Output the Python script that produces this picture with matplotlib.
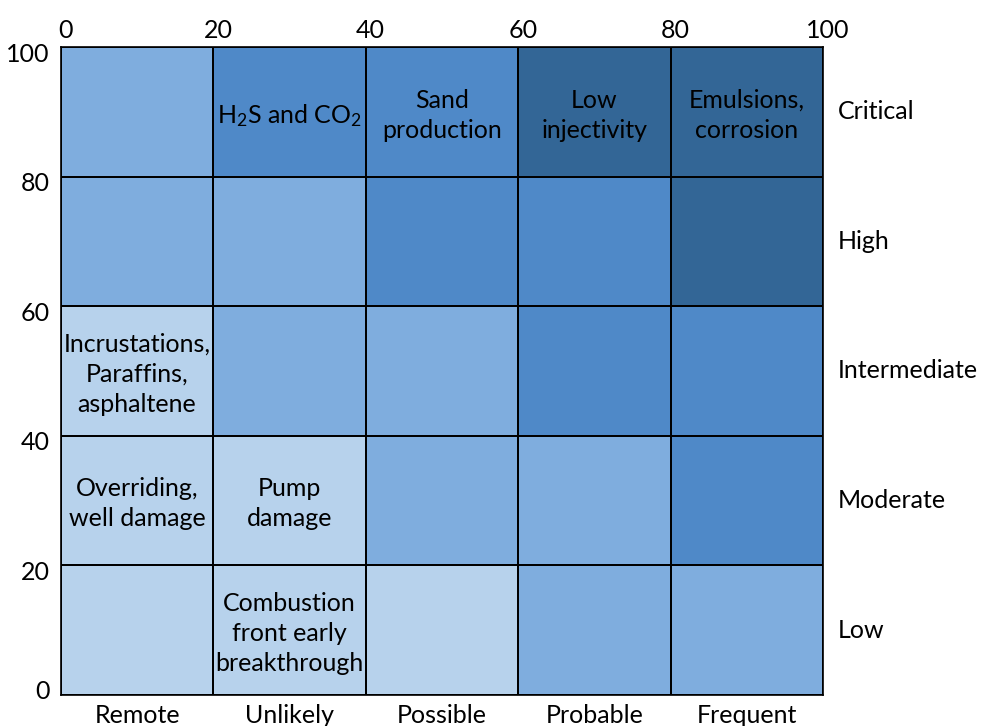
import numpy as np
import matplotlib.pyplot as plt
from matplotlib.colors import ListedColormap
from matplotlib.transforms import ScaledTranslation

plt.rcParams['font.family'] = ['Lato', 'DejaVu Sans']
plt.rcParams['mathtext.fontset'] = 'custom'
plt.rcParams['mathtext.rm'] = 'Lato'
plt.rcParams['mathtext.it'] = 'Lato'

# 概率 (列) 与 严重程度 (行)
probability = ['Remote', 'Unlikely', 'Possible', 'Probable', 'Frequent']
severity = ['Critical', 'High', 'Intermediate', 'Moderate', 'Low']
ticks = [0, 20, 40, 60, 80, 100]

# 风险等级, 行从上到下
risk_level = np.array([
    [1, 2, 2, 3, 3],
    [1, 1, 2, 2, 3],
    [0, 1, 1, 2, 2],
    [0, 0, 1, 1, 2],
    [0, 0, 0, 1, 1],
])
level_colors = ['#b7d2ec', '#7fadde', '#4f89c8', '#336696']

# 单元格内的问题说明 (行, 列, 文字)
cell_notes = [
    (0, 1, 'H$_2$S and CO$_2$'),
    (0, 2, 'Sand\nproduction'),
    (0, 3, 'Low\ninjectivity'),
    (0, 4, 'Emulsions,\ncorrosion'),
    (2, 0, 'Incrustations,\nParaffins,\nasphaltene'),
    (3, 0, 'Overriding,\nwell damage'),
    (3, 1, 'Pump\ndamage'),
    (4, 1, 'Combustion\nfront early\nbreakthrough'),
]

fs = 18

fig = plt.figure(figsize=(9.82, 7.26), dpi=100)
ax = fig.add_axes([0.062, 0.043, 0.776, 0.892])

edges = np.array(ticks)
cmap = ListedColormap(level_colors)
# pcolormesh 从下往上画, 所以把行翻过来
ax.pcolormesh(edges, edges, risk_level[::-1], cmap=cmap, vmin=-0.5, vmax=3.5,
              edgecolor='black', linewidth=1.2)

ax.set_xlim(0, 100)
ax.set_ylim(0, 100)
ax.xaxis.tick_top()
ax.set_xticks(ticks)
ax.set_yticks(ticks)
ax.tick_params(length=0, labelsize=fs)
ax.tick_params(axis='x', pad=4)
ax.tick_params(axis='y', pad=8)
for s in ax.spines.values():
    s.set_linewidth(1.2)

# 刻度文字稍微错开一点
for lab in ax.get_xticklabels():
    lab.set_transform(lab.get_transform() + ScaledTranslation(5 / 100, 0, fig.dpi_scale_trans))
for lab, t in zip(ax.get_yticklabels(), ticks):
    dy = 5 if t == 0 else -5
    lab.set_transform(lab.get_transform() + ScaledTranslation(0, dy / 100, fig.dpi_scale_trans))

for r, c, txt in cell_notes:
    ax.text(edges[c] + 10, 100 - (r * 20 + 10) - 0.5, txt, ha='center', va='center',
            fontsize=fs, linespacing=1.38)

for i, name in enumerate(severity):
    ax.text(102, 100 - (i * 20 + 10), name, ha='left', va='center', fontsize=fs)

for i, name in enumerate(probability):
    ax.text(edges[i] + 10, -1.5, name, ha='center', va='top', fontsize=fs)

plt.savefig('out.png', dpi=100)
